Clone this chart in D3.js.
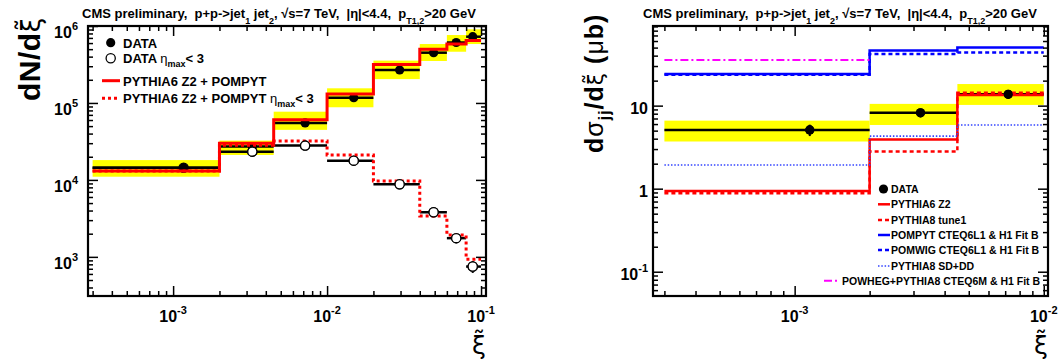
<!DOCTYPE html>
<html>
<head>
<meta charset="utf-8">
<script src="https://cdn.jsdelivr.net/npm/d3@7"></script>
<style>
  body { margin: 0; background: #fff; }
  text { font-family: "Liberation Sans", Arial, sans-serif; font-weight: bold; fill: #000; white-space: pre; }
  .xi { font-family: "DejaVu Sans", sans-serif; font-weight: normal; }
</style>
</head>
<body>
<svg id="chart" width="1059" height="360"></svg>
<script>
// ---- left panel: dN/dxi ----
const edgesL = [0.0003, 0.002, 0.0045, 0.01, 0.02, 0.04, 0.06, 0.08, 0.1];
const xiPointL = [0.00117, 0.00327, 0.0072, 0.0149, 0.0296, 0.0492, 0.069, 0.0883];
const dataAll = [14400, 27100, 55000, 117000, 268000, 450000, 610000, 726000];
const sysLowAll = [11000, 21100, 44700, 87900, 204000, 351000, 463000, 583000];
const sysHighAll = [18100, 32400, 77000, 155000, 355000, 583000, 763000, 906000];
const dataEta = [14400, 23300, 27900, 17800, 8800, 3800, 1750, 748];
const statEta = [0, 0, 0, 0, 0, 0, 60, 130];
const pythiaPompyt = [13100, 29900, 60500, 131000, 317000, 497000, 583000, 646000];
const pythiaPompytEta = [13100, 28200, 32100, 21100, 9700, 3400, 1930, 933];
const xTicksL = [1e-3, 1e-2, 1e-1];
const yTicksL = [1e3, 1e4, 1e5, 1e6];

// ---- right panel: dsigma_jj/dxi ----
const edgesR = [0.0003, 0.002, 0.0045, 0.01];
const xiPointR = [0.00115, 0.0032, 0.0072];
const dataJJ = [5.1, 8.2, 13.7];
const statJJ = [0.8, 0.3, 0.3];
const sysLowJJ = [3.7, 5.85, 10.2];
const sysHighJJ = [6.6, 10.5, 18.2];
const pythia6Z2 = [0.94, 3.9, 13.4];
const pythia8Tune1 = [0.88, 2.8, 14.3];
const pompyt = [24, 46, 50];
const pomwig = [23.5, 42, 43.5];
const pythia8SDDD = [1.93, 4.3, 5.85];
const powheg = [35.5];
const xTicksR = [1e-3, 1e-2];
const yTicksR = [0.1, 1, 10];

const XI = 'ξ\u0303';

const svg = d3.select('#chart');
svg.append('rect').attr('width', 1059).attr('height', 360).attr('fill', '#fff');

function minorsOf(scale) {
  const [a, b] = scale.domain();
  const out = [];
  for (let e = Math.floor(Math.log10(a)); e <= Math.ceil(Math.log10(b)); e++) {
    for (let m = 2; m <= 9; m++) {
      const v = m * Math.pow(10, e);
      if (v >= a && v <= b) out.push(v);
    }
  }
  return out;
}

function powLabel(t, v, supDy) {
  const e = Math.round(Math.log10(v));
  if (e === 0) { t.append('tspan').text('1'); return; }
  t.append('tspan').text('10');
  if (e !== 1) t.append('tspan').attr('font-size', 11).attr('dy', supDy).text(String(e));
}

function drawFrame(g, x, y, xTicks, yTicks, yLabelOff, yLabelDy, yFont) {
  const [x0, x1] = x.range();
  const [y1, y0] = y.range();
  const xMinor = minorsOf(x), yMinor = minorsOf(y);
  const axes = [
    [d3.axisBottom(x), `translate(0,${y1})`, xTicks, xMinor],
    [d3.axisTop(x), `translate(0,${y0})`, xTicks, xMinor],
    [d3.axisLeft(y), `translate(${x0},0)`, yTicks, yMinor],
    [d3.axisRight(y), `translate(${x1},0)`, yTicks, yMinor]
  ];
  axes.forEach(([ax, tr, maj, min]) => {
    g.append('g').attr('transform', tr)
      .call(ax.tickValues(min).tickSize(-5).tickFormat(''))
      .call(s => s.select('.domain').remove())
      .selectAll('line').attr('stroke', '#000').attr('stroke-width', 1.5);
    g.append('g').attr('transform', tr)
      .call(ax.tickValues(maj).tickSize(-10).tickFormat(''))
      .call(s => s.select('.domain').remove())
      .selectAll('line').attr('stroke', '#000').attr('stroke-width', 1.5);
  });
  g.append('rect').attr('x', x0).attr('y', y0).attr('width', x1 - x0).attr('height', y1 - y0)
    .attr('fill', 'none').attr('stroke', '#000').attr('stroke-width', 2.2);

  xTicks.forEach(v => {
    const t = g.append('text').attr('x', x(v)).attr('y', 322).attr('text-anchor', 'middle').attr('font-size', 16);
    powLabel(t, v, -8);
  });
  yTicks.forEach(v => {
    const t = g.append('text').attr('x', x0 - yLabelOff).attr('y', y(v) + yLabelDy).attr('text-anchor', 'end').attr('font-size', yFont);
    powLabel(t, v, -8);
  });
  // xi-tilde axis title
  g.append('text').attr('class', 'xi').attr('x', x1 - 7).attr('y', 354)
    .attr('text-anchor', 'middle').attr('font-size', 25).text(XI);
}

function drawTitle(cx) {
  const t = svg.append('text').attr('x', cx).attr('y', 18).attr('text-anchor', 'middle').attr('font-size', 13);
  t.append('tspan').text('CMS preliminary,  p+p->jet');
  t.append('tspan').attr('font-size', 9).attr('dy', 6).text('1');
  t.append('tspan').attr('dy', -6).text(' jet');
  t.append('tspan').attr('font-size', 9).attr('dy', 6).text('2');
  t.append('tspan').attr('dy', -6).text(', √s=7 TeV,  |η|<4.4,  p');
  t.append('tspan').attr('font-size', 9).attr('dy', 6).text('T1,2');
  t.append('tspan').attr('dy', -6).text('>20 GeV');
}

function stepPoints(edges, vals) {
  return vals.flatMap((v, i) => [[edges[i], v], [edges[i + 1], v]]);
}

function drawStep(g, x, y, edges, vals, color, width, dash) {
  const line = d3.line().x(d => x(d[0])).y(d => y(d[1]));
  g.append('path').attr('d', line(stepPoints(edges, vals)))
    .attr('fill', 'none').attr('stroke', color).attr('stroke-width', width)
    .attr('stroke-dasharray', dash || null);
}

function drawBands(g, x, y, edges, lo, hi) {
  g.selectAll(null).data(lo).enter().append('rect')
    .attr('x', (d, i) => x(edges[i])).attr('width', (d, i) => x(edges[i + 1]) - x(edges[i]))
    .attr('y', (d, i) => y(hi[i])).attr('height', (d, i) => y(lo[i]) - y(hi[i]))
    .attr('fill', '#ffff00');
}

function drawData(g, x, y, edges, xs, vals, errs, open) {
  vals.forEach((v, i) => {
    g.append('line').attr('x1', x(edges[i])).attr('x2', x(edges[i + 1]))
      .attr('y1', y(v)).attr('y2', y(v)).attr('stroke', '#000').attr('stroke-width', 2.5);
    if (errs[i] > 0) {
      g.append('line').attr('x1', x(xs[i])).attr('x2', x(xs[i]))
        .attr('y1', y(v + errs[i])).attr('y2', y(v - errs[i])).attr('stroke', '#000').attr('stroke-width', 2);
    }
  });
  g.selectAll(null).data(vals).enter().append('circle')
    .attr('cx', (d, i) => x(xs[i])).attr('cy', d => y(d)).attr('r', 4.6)
    .attr('fill', open ? '#fff' : '#000').attr('stroke', '#000').attr('stroke-width', open ? 1.3 : 0);
}

// ================= LEFT PANEL =================
const xL = d3.scaleLog().domain([2.8e-4, 0.1077]).range([88, 486]);
const yL = d3.scaleLog().domain([310, 1e6]).range([296, 26]);
const gL = svg.append('g');

drawBands(gL, xL, yL, edgesL, sysLowAll, sysHighAll);
drawData(gL, xL, yL, edgesL, xiPointL, dataEta, statEta, true);
drawData(gL, xL, yL, edgesL, xiPointL, dataAll, dataAll.map(() => 0), false);
drawStep(gL, xL, yL, edgesL, pythiaPompytEta, '#ff0000', 3, '3,3');
drawStep(gL, xL, yL, edgesL, pythiaPompyt, '#ff0000', 3);
// redraw eta markers above the dotted line
gL.selectAll(null).data(dataEta.slice(1)).enter().append('circle')
  .attr('cx', (d, i) => xL(xiPointL[i + 1])).attr('cy', d => yL(d)).attr('r', 4.6)
  .attr('fill', '#fff').attr('stroke', '#000').attr('stroke-width', 1.3);
drawFrame(gL, xL, yL, xTicksL, yTicksL, 10, 12, 16);
drawTitle(279);

// y title
const ytL = gL.append('text').attr('transform', 'translate(40,101) rotate(-90)')
  .attr('text-anchor', 'start').attr('font-size', 30).attr('letter-spacing', 0.5);
ytL.append('tspan').text('dN/d');
ytL.append('tspan').attr('class', 'xi').attr('font-size', 26).text(XI);

// legend
const legL = gL.append('g');
const legRowsL = [42.7, 58.3, 80.7, 98.3];
legL.append('circle').attr('cx', 110.7).attr('cy', legRowsL[0]).attr('r', 4.6).attr('fill', '#000');
legL.append('circle').attr('cx', 110.7).attr('cy', legRowsL[1]).attr('r', 4.6).attr('fill', '#fff').attr('stroke', '#000').attr('stroke-width', 1.3);
legL.append('line').attr('x1', 102).attr('x2', 120).attr('y1', legRowsL[2]).attr('y2', legRowsL[2]).attr('stroke', '#ff0000').attr('stroke-width', 3);
legL.append('line').attr('x1', 102).attr('x2', 120).attr('y1', legRowsL[3]).attr('y2', legRowsL[3]).attr('stroke', '#ff0000').attr('stroke-width', 3).attr('stroke-dasharray', '3,3');
function etaLabel(t) {
  t.append('tspan').attr('font-weight', 'normal').text('η');
  t.append('tspan').attr('font-size', 9).attr('dy', 4).text('max');
  t.append('tspan').attr('dy', -4).text('< 3');
}
legL.append('text').attr('x', 123).attr('y', legRowsL[0] + 5).attr('font-size', 13).text('DATA');
etaLabel(legL.append('text').attr('x', 123).attr('y', legRowsL[1] + 5).attr('font-size', 13).text('DATA '));
legL.append('text').attr('x', 123).attr('y', legRowsL[2] + 5).attr('font-size', 13).text('PYTHIA6 Z2 + POMPYT');
etaLabel(legL.append('text').attr('x', 123).attr('y', legRowsL[3] + 5).attr('font-size', 13).text('PYTHIA6 Z2 + POMPYT '));

// ================= RIGHT PANEL =================
const xR = d3.scaleLog().domain([2.7e-4, 0.0104]).range([653, 1048]);
const yR = d3.scaleLog().domain([0.051, 91]).range([296, 26]);
const gR = svg.append('g');

drawBands(gR, xR, yR, edgesR, sysLowJJ, sysHighJJ);
drawData(gR, xR, yR, edgesR, xiPointR, dataJJ, statJJ, false);
const modelsR = [
  { name: 'PYTHIA6 Z2', vals: pythia6Z2, color: '#ff0000', w: 2.5, dash: null },
  { name: 'PYTHIA8 tune1', vals: pythia8Tune1, color: '#ff0000', w: 2.5, dash: '4,3' },
  { name: 'POMPYT CTEQ6L1 & H1 Fit B', vals: pompyt, color: '#0000ff', w: 2.5, dash: null },
  { name: 'POMWIG CTEQ6L1 & H1 Fit B', vals: pomwig, color: '#0000ff', w: 2.5, dash: '4,3' },
  { name: 'PYTHIA8 SD+DD', vals: pythia8SDDD, color: '#3344ff', w: 1.6, dash: '1.5,1.8' },
  { name: 'POWHEG+PYTHIA8 CTEQ6M & H1 Fit B', vals: powheg, color: '#ff00ff', w: 2, dash: '8,3,2,3' }
];
modelsR.forEach(m => drawStep(gR, xR, yR, edgesR, m.vals, m.color, m.w, m.dash));
gR.selectAll(null).data(dataJJ).enter().append('circle')
  .attr('cx', (d, i) => xR(xiPointR[i])).attr('cy', d => yR(d)).attr('r', 4.6).attr('fill', '#000');
drawFrame(gR, xR, yR, xTicksR, yTicksR, 5, 8, 16);
drawTitle(840);

const ytR = gR.append('text').attr('transform', 'translate(603,153) rotate(-90)')
  .attr('text-anchor', 'start').attr('font-size', 25).attr('letter-spacing', 1);
ytR.append('tspan').text('d');
ytR.append('tspan').attr('font-weight', 'normal').text('σ');
ytR.append('tspan').attr('font-size', 16).attr('dy', 7).text('jj');
ytR.append('tspan').attr('dy', -7).text('/d');
ytR.append('tspan').attr('class', 'xi').attr('font-size', 22).text(XI);
ytR.append('tspan').text(' (');
ytR.append('tspan').attr('font-weight', 'normal').text('μ');
ytR.append('tspan').text('b)');

// legend
const legR = gR.append('g');
const legRowsR = [189, 204.3, 220, 235, 250, 266, 280.7];
legR.append('circle').attr('cx', 883.5).attr('cy', legRowsR[0]).attr('r', 4.6).attr('fill', '#000');
legR.append('text').attr('x', 891).attr('y', legRowsR[0] + 4).attr('font-size', 10.5).text('DATA');
modelsR.forEach((m, i) => {
  const yy = legRowsR[i + 1];
  const last = i === modelsR.length - 1;
  legR.append('line').attr('x1', last ? 824 : 878).attr('x2', last ? 839 : 890)
    .attr('y1', yy).attr('y2', yy).attr('stroke', m.color).attr('stroke-width', m.w)
    .attr('stroke-dasharray', m.dash);
  legR.append('text').attr('x', last ? 842 : 891).attr('y', yy + 4).attr('font-size', 10.5).text(m.name);
});
</script>
</body>
</html>
